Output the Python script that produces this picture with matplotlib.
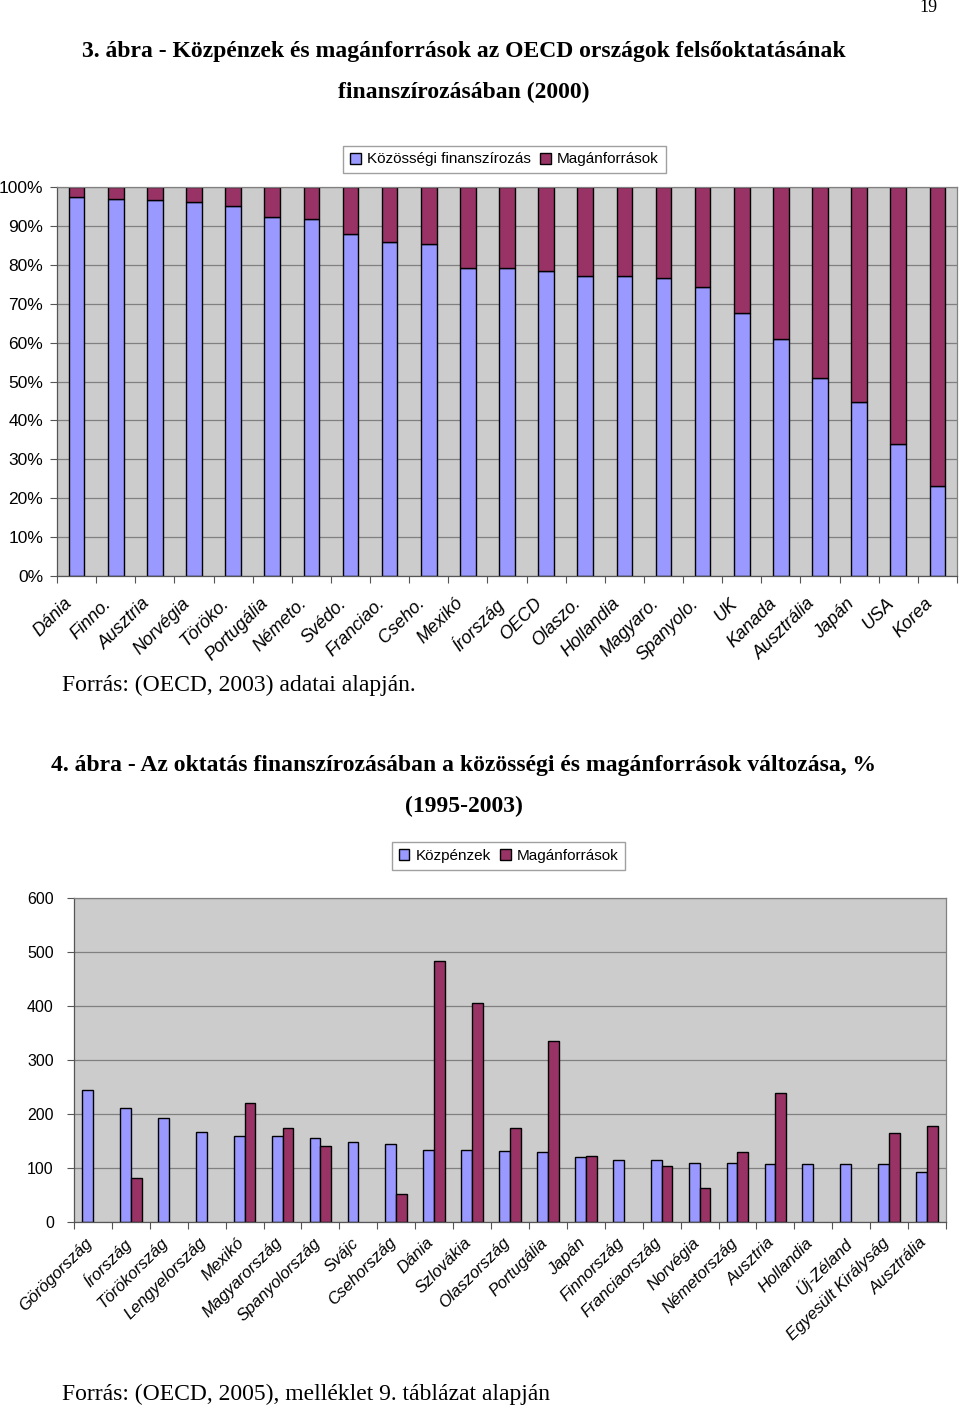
import numpy as np
import matplotlib
matplotlib.use("Agg")
import matplotlib.pyplot as plt
import matplotlib.transforms as mtransforms
from matplotlib.patches import Patch
from matplotlib.ticker import FixedLocator, NullFormatter

# ---------- DATA ----------
# 3. ábra: public share of tertiary education funding (2000), %
countries_2000 = ["Dánia", "Finno.", "Ausztria", "Norvégia", "Töröko.",
                  "Portugália", "Németo.", "Svédo.", "Franciao.", "Cseho.",
                  "Mexikó", "Írország", "OECD", "Olaszo.", "Hollandia",
                  "Magyaro.", "Spanyolo.", "UK", "Kanada", "Ausztrália",
                  "Japán", "USA", "Korea"]
public_share = [97.4, 97.0, 96.7, 96.1, 95.2, 92.4, 91.7, 87.8, 85.8, 85.4,
                79.2, 79.2, 78.5, 77.2, 77.2, 76.7, 74.2, 67.7, 61.0, 51.0,
                44.7, 33.9, 23.1]
private_share = [100 - v for v in public_share]

# 4. ábra: change of public and private funding, % (1995-2003)
countries_change = ["Görögország", "Írország", "Törökország", "Lengyelország",
                    "Mexikó", "Magyarország", "Spanyolország", "Svájc",
                    "Csehország", "Dánia", "Szlovákia", "Olaszország",
                    "Portugália", "Japán", "Finnország", "Franciaország",
                    "Norvégia", "Németország", "Ausztria", "Hollandia",
                    "Új-Zéland", "Egyesült Királyság", "Ausztrália"]
public_change = [244, 212, 192, 167, 159, 159, 156, 149, 144, 133, 133, 131,
                 129, 120, 115, 115, 110, 109, 107, 107, 107, 107, 93]
private_change = [np.nan, 81, np.nan, np.nan, 221, 174, 140, np.nan, 52, 483,
                  406, 174, 336, 122, np.nan, 104, 63, 129, 239, np.nan,
                  np.nan, 165, 178]
# ---------------------------

BLUE = "#9999FF"
RED = "#993366"
BG = "#CCCCCC"
GRID = "#808080"
SANS = "Liberation Sans"
SERIF = "Liberation Serif"

W, H = 960, 1408
fig = plt.figure(figsize=(W / 100, H / 100), dpi=100)


def px_axes(left, top, right, bottom):
    return fig.add_axes([left / W, 1 - bottom / H, (right - left) / W, (bottom - top) / H])


def style_axes(ax, n):
    ax.set_facecolor(BG)
    ax.set_xlim(-0.5, n - 0.5)
    ax.grid(axis="y", color=GRID, linewidth=0.9)
    ax.set_axisbelow(True)
    for s in ax.spines.values():
        s.set_color(GRID)
        s.set_linewidth(0.9)
    ax.spines["left"].set_color("#555555")
    ax.spines["bottom"].set_color("#555555")
    # tick marks at category boundaries
    ax.xaxis.set_major_locator(FixedLocator(np.arange(n + 1) - 0.5))
    ax.xaxis.set_major_formatter(NullFormatter())
    ax.tick_params(axis="x", length=5, color="#555555")
    ax.tick_params(axis="y", length=5, color="#555555")


def category_labels(ax, labels, dx, dy, size):
    # rotated labels whose right end sits just below each category centre
    off = mtransforms.ScaledTranslation(dx / 100, dy / 100, fig.dpi_scale_trans)
    trans = ax.get_xaxis_transform() + off
    for i, lab in enumerate(labels):
        ax.text(i, 0, lab, transform=trans, rotation=45, rotation_mode="anchor",
                ha="right", va="top", fontsize=size, family=SANS, style="italic")


# ---------- page text ----------
fig.text(928 / W, 1 - 8 / H, "19", fontsize=13, family=SERIF, ha="center", va="center")
fig.text(464 / W, 1 - 52 / H,
         "3. ábra - Közpénzek és magánforrások az OECD országok felsőoktatásának",
         fontsize=17, family=SERIF, weight="bold", ha="center", va="center")
fig.text(464 / W, 1 - 92 / H, "finanszírozásában (2000)",
         fontsize=17, family=SERIF, weight="bold", ha="center", va="center")

# ---------- chart 1: stacked 100% ----------
ax1 = px_axes(57, 187, 957, 576)
x1 = np.arange(len(countries_2000))
ax1.bar(x1, public_share, width=0.4, color=BLUE, edgecolor="black", linewidth=1)
ax1.bar(x1, private_share, width=0.4, bottom=public_share, color=RED,
        edgecolor="black", linewidth=1)
style_axes(ax1, len(countries_2000))
ax1.set_ylim(0, 100)
ax1.set_yticks(np.arange(0, 101, 10))
ax1.set_yticklabels([f"{v}%" for v in range(0, 101, 10)], fontsize=12.5, family=SANS)
ax1.tick_params(axis="y", pad=5)
category_labels(ax1, countries_2000, -13, -19, 13)

fig.legend(handles=[Patch(facecolor=BLUE, edgecolor="black", label="Közösségi finanszírozás"),
                    Patch(facecolor=RED, edgecolor="black", label="Magánforrások")],
           loc="center", bbox_to_anchor=(504.5 / W, 1 - 159.5 / H), ncol=2,
           prop={"family": SANS, "size": 11}, frameon=True, fancybox=False,
           edgecolor="#888888", handlelength=0.7, handleheight=0.7,
           handletextpad=0.4, columnspacing=0.6, borderpad=0.45)

fig.text(62 / W, 1 - 685 / H, "Forrás: (OECD, 2003) adatai alapján.",
         fontsize=17, family=SERIF, ha="left", va="center")

# ---------- chart 2: clustered bars ----------
fig.text(464 / W, 1 - 766 / H,
         "4. ábra - Az oktatás finanszírozásában a közösségi és magánforrások változása, %",
         fontsize=17, family=SERIF, weight="bold", ha="center", va="center")
fig.text(464 / W, 1 - 806 / H, "(1995-2003)",
         fontsize=17, family=SERIF, weight="bold", ha="center", va="center")

ax2 = px_axes(74, 898, 946, 1222)
x2 = np.arange(len(countries_change))
bw = 0.286
ax2.bar(x2 - bw / 2, public_change, width=bw, color=BLUE, edgecolor="black", linewidth=1)
ax2.bar(x2 + bw / 2, private_change, width=bw, color=RED, edgecolor="black", linewidth=1)
style_axes(ax2, len(countries_change))
ax2.set_ylim(0, 600)
ax2.set_yticks(np.arange(0, 601, 100))
ax2.set_yticklabels([str(v) for v in range(0, 601, 100)], fontsize=11.5, family=SANS)
ax2.tick_params(axis="y", pad=9.5)
category_labels(ax2, countries_change, -8, -13, 12)

fig.legend(handles=[Patch(facecolor=BLUE, edgecolor="black", label="Közpénzek"),
                    Patch(facecolor=RED, edgecolor="black", label="Magánforrások")],
           loc="center", bbox_to_anchor=(508.5 / W, 1 - 856 / H), ncol=2,
           prop={"family": SANS, "size": 11}, frameon=True, fancybox=False,
           edgecolor="#888888", handlelength=0.7, handleheight=0.7,
           handletextpad=0.4, columnspacing=0.6, borderpad=0.45)

fig.text(62 / W, 1 - 1394 / H, "Forrás: (OECD, 2005), melléklet 9. táblázat alapján",
         fontsize=17, family=SERIF, ha="left", va="center")

fig.savefig("out.png", dpi=100)
